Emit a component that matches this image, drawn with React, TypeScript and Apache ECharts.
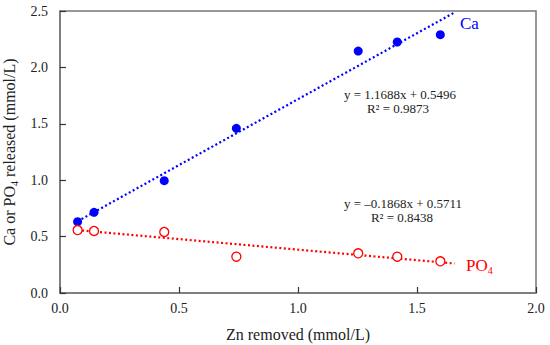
import React, { useEffect, useRef } from "react";
import * as echarts from "echarts";

const znRemoved = [0.074, 0.143, 0.438, 0.741, 1.253, 1.417, 1.598];
const caReleased = [0.632, 0.715, 0.996, 1.46, 2.145, 2.225, 2.29];
const po4Released = [0.558, 0.55, 0.541, 0.322, 0.352, 0.322, 0.281];
// trend-line coefficients as printed on the chart: [slope, intercept]
const caFit = [1.1688, 0.5496];
const po4Fit = [-0.1868, 0.5711];
const trendRange = [0.074, 1.658];
const xTicks = [0, 0.5, 1.0, 1.5, 2.0];
const yTicks = [0, 0.5, 1.0, 1.5, 2.0, 2.5];

const FONT = "Liberation Serif";
const AXIS = "#777777";

export default function App() {
  const ref = useRef<HTMLDivElement>(null);
  useEffect(() => {
    if (!ref.current) return;
    const chart = echarts.init(ref.current, undefined, { renderer: "svg" });
    const caTrend = trendRange.map((x) => [x, caFit[0] * x + caFit[1]]);
    const poTrend = trendRange.map((x) => [x, po4Fit[0] * x + po4Fit[1]]);
    const axisCommon = {
      axisLine: { show: true, lineStyle: { color: AXIS, width: 1.5 } },
      axisTick: { show: true, inside: true, length: 6, lineStyle: { color: "#333", width: 1.2 } },
      splitLine: { show: false },
    };
    chart.setOption({
      animation: false,
      backgroundColor: "#fff",
      textStyle: { fontFamily: FONT },
      grid: {
        left: 60,
        top: 11,
        right: 14,
        bottom: 52,
        show: true,
        borderColor: AXIS,
        borderWidth: 1.5,
        backgroundColor: "transparent",
        outerBoundsMode: "none",
      },
      xAxis: {
        type: "value",
        min: xTicks[0],
        max: xTicks[xTicks.length - 1],
        interval: 0.5,
        ...axisCommon,
        axisLabel: {
          margin: 8,
          fontFamily: FONT,
          fontSize: 14,
          color: "#222",
          formatter: (v: number) => v.toFixed(1),
        },
        name: "Zn removed (mmol/L)",
        nameLocation: "middle",
        nameGap: 33,
        nameTextStyle: { fontFamily: FONT, fontSize: 16, color: "#222" },
      },
      yAxis: {
        type: "value",
        min: yTicks[0],
        max: yTicks[yTicks.length - 1],
        interval: 0.5,
        ...axisCommon,
        axisLabel: {
          margin: 12,
          fontFamily: FONT,
          fontSize: 14,
          color: "#222",
          formatter: (v: number) => v.toFixed(1),
        },
        name: "{a|Ca or PO}{s|4}{a| released (mmol/L)}",
        nameLocation: "middle",
        nameGap: 39,
        nameTextStyle: {
          fontFamily: FONT,
          color: "#222",
          rich: {
            a: { fontFamily: FONT, fontSize: 16, color: "#222", lineHeight: 20 },
            s: { fontFamily: FONT, fontSize: 10, color: "#222", lineHeight: 10, verticalAlign: "bottom" },
          },
        },
      },
      series: [
        {
          name: "Ca trend",
          type: "line",
          data: caTrend,
          symbol: "none",
          lineStyle: { color: "#0000ff", width: 2.2, type: [2, 2.5] },
          z: 3,
        },
        {
          name: "PO4 trend",
          type: "line",
          data: poTrend,
          symbol: "none",
          lineStyle: { color: "#ff0000", width: 2.2, type: [2, 2.5] },
          z: 3,
        },
        {
          name: "Ca",
          type: "scatter",
          data: znRemoved.map((x, i) => [x, caReleased[i]]),
          symbol: "circle",
          symbolSize: 9,
          itemStyle: { color: "#0000ff", opacity: 1 },
          z: 4,
        },
        {
          name: "PO4",
          type: "scatter",
          data: znRemoved.map((x, i) => [x, po4Released[i]]),
          symbol: "circle",
          symbolSize: 9,
          itemStyle: { color: "#ffffff", borderColor: "#ff0000", borderWidth: 1.3, opacity: 1 },
          z: 4,
        },
      ],
      graphic: [
        {
          type: "text",
          x: 460,
          y: 23,
          style: { text: "Ca", fontFamily: FONT, fontSize: 17, fill: "#0000ff", textVerticalAlign: "middle" },
        },
        {
          type: "text",
          x: 466,
          y: 265,
          style: {
            text: "{a|PO}{s|4}",
            fontFamily: FONT,
            textVerticalAlign: "middle",
            rich: {
              a: { fontFamily: FONT, fontSize: 17, fill: "#ff0000", lineHeight: 20 },
              s: { fontFamily: FONT, fontSize: 10, fill: "#ff0000", lineHeight: 10, verticalAlign: "bottom" },
            },
          },
        },
        {
          type: "text",
          x: 400,
          y: 94,
          style: { text: "y = 1.1688x + 0.5496", fontFamily: FONT, fontSize: 13, fill: "#222", textAlign: "center", textVerticalAlign: "middle" },
        },
        {
          type: "text",
          x: 398,
          y: 108,
          style: { text: "R² = 0.9873", fontFamily: FONT, fontSize: 13, fill: "#222", textAlign: "center", textVerticalAlign: "middle" },
        },
        {
          type: "text",
          x: 403,
          y: 203,
          style: { text: "y = –0.1868x + 0.5711", fontFamily: FONT, fontSize: 13, fill: "#222", textAlign: "center", textVerticalAlign: "middle" },
        },
        {
          type: "text",
          x: 402,
          y: 217,
          style: { text: "R² = 0.8438", fontFamily: FONT, fontSize: 13, fill: "#222", textAlign: "center", textVerticalAlign: "middle" },
        },
      ],
    });
    return () => chart.dispose();
  }, []);
  return <div ref={ref} style={{ width: 550, height: 345, position: "absolute", left: 0, top: 0 }} />;
}
